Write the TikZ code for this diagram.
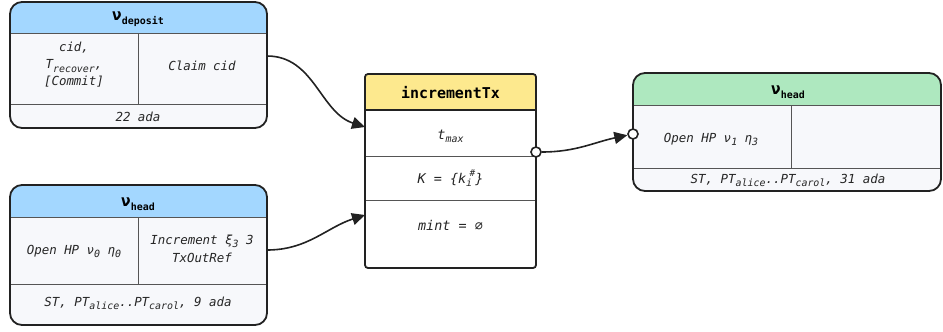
\documentclass[tikz,border=0pt]{standalone}
\usepackage{fontspec}
\setmainfont{DejaVu Sans Mono}[BoldFont={DejaVu Sans Mono Bold},ItalicFont={DejaVu Sans Mono Oblique},BoldItalicFont={DejaVu Sans Mono Bold Oblique}]
\usetikzlibrary{arrows.meta,calc}
\definecolor{hblue}{HTML}{A3D7FF}
\definecolor{hgreen}{HTML}{AEE8BF}
\definecolor{hyellow}{HTML}{FDE98E}
\definecolor{bodyc}{HTML}{F7F8FB}
\definecolor{edge}{HTML}{222222}
\definecolor{divc}{HTML}{555555}
\newcommand{\sbs}[1]{\raisebox{-0.45ex}{\fontsize{10}{10}\selectfont #1}}
\newcommand{\sps}[1]{\raisebox{0.9ex}{\fontsize{9.5}{10}\selectfont #1}}
\tikzset{
  boxbg/.style={inner sep=0pt, outer sep=0pt, draw=none},
  border/.style={draw=edge, line width=1.8bp},
  divline/.style={draw=divc, line width=1bp},
  celltxt/.style={inner sep=1bp, align=center, font=\fontsize{12.5}{16}\selectfont\itshape, text=black!85},
  inctxt/.style={inner sep=1bp, align=center, font=\fontsize{13.5}{16}\selectfont\itshape, text=black!85},
  headtxt/.style={inner sep=1bp, font=\fontsize{16}{17}\selectfont\bfseries},
  conn/.style={draw=edge, line width=1.6bp, -{Triangle[length=13bp,width=12bp]}},
  port/.style={circle, draw=edge, line width=1.6bp, fill=white, minimum size=10bp, inner sep=0pt}
}
\begin{document}
\begin{tikzpicture}[x=1bp,y=-1bp]
\useasboundingbox (0,0) rectangle (943,331);

% ---------- v_deposit ----------
\node[boxbg, fill=bodyc, rounded corners=12bp, minimum width=257bp, minimum height=126bp] (dep) at (138.5,65) {};
\begin{scope}
  \clip[rounded corners=12bp] (dep.north west) rectangle (dep.south east);
  \fill[hblue] (dep.north west) rectangle ($(dep.north east)+(0,31)$);
\end{scope}
\draw[divline] ($(dep.north west)+(0,31)$) -- ($(dep.north east)+(0,31)$);
\draw[divline] ($(dep.north west)+(0,102)$) -- ($(dep.north east)+(0,102)$);
\draw[divline] (138,33) -- (138,104);
\draw[border, rounded corners=12bp] (dep.north west) rectangle (dep.south east);
\node[headtxt] (depH) at (138,19) {ν\sbs{deposit}};
\node[celltxt] (depA1) at (74,48) {cid,};
\node[celltxt] (depA2) at (74,66) {T\sbs{recover},};
\node[celltxt] (depA3) at (74,82) {[Commit]};
\node[celltxt] (depB) at (202,66) {Claim cid};
\node[celltxt] (depF) at (138,117) {22 ada};

% ---------- v_head (left) ----------
\node[boxbg, fill=bodyc, rounded corners=12bp, minimum width=257bp, minimum height=140bp] (hl) at (138.5,255) {};
\begin{scope}
  \clip[rounded corners=12bp] (hl.north west) rectangle (hl.south east);
  \fill[hblue] (hl.north west) rectangle ($(hl.north east)+(0,32)$);
\end{scope}
\draw[divline] ($(hl.north west)+(0,32)$) -- ($(hl.north east)+(0,32)$);
\draw[divline] ($(hl.north west)+(0,99)$) -- ($(hl.north east)+(0,99)$);
\draw[divline] (138,217) -- (138,284);
\draw[border, rounded corners=12bp] (hl.north west) rectangle (hl.south east);
\node[headtxt] (hlH) at (138,204) {ν\sbs{head}};
\node[celltxt] (hlA) at (74,251) {Open HP ν\sbs{0} η\sbs{0}};
\node[celltxt] (hlB1) at (202,241) {Increment ξ\sbs{3} 3};
\node[celltxt] (hlB2) at (202,258) {TxOutRef};
\node[celltxt] (hlF) at (138,303) {ST, PT\sbs{alice}..PT\sbs{carol}, 9 ada};

% ---------- incrementTx ----------
\node[boxbg, fill=white, rounded corners=3bp, minimum width=171bp, minimum height=194bp] (inc) at (450.5,171) {};
\begin{scope}
  \clip[rounded corners=3bp] (inc.north west) rectangle (inc.south east);
  \fill[hyellow] (inc.north west) rectangle ($(inc.north east)+(0,36)$);
\end{scope}
\draw[border] ($(inc.north west)+(0,36)$) -- ($(inc.north east)+(0,36)$);
\draw[divline] ($(inc.north west)+(0,82)$) -- ($(inc.north east)+(0,82)$);
\draw[divline] ($(inc.north west)+(0,126)$) -- ($(inc.north east)+(0,126)$);
\draw[border, rounded corners=3bp] (inc.north west) rectangle (inc.south east);
\node[headtxt, font=\fontsize{15}{17}\selectfont\bfseries] (incH) at (450.5,93) {incrementTx};
\node[inctxt] (incA) at (450.5,136) {t\sbs{max}};
\node[inctxt] (incB) at (450.5,178) {K = \{k\sbs{i}\kern-0.2em\sps{\#}\}};
\node[inctxt] (incC) at (450.5,225) {mint = ∅};

% ---------- v_head (right) ----------
\node[boxbg, fill=bodyc, rounded corners=12bp, minimum width=308bp, minimum height=118bp] (hr) at (787,132) {};
\begin{scope}
  \clip[rounded corners=12bp] (hr.north west) rectangle (hr.south east);
  \fill[hgreen] (hr.north west) rectangle ($(hr.north east)+(0,32)$);
\end{scope}
\draw[divline] ($(hr.north west)+(0,32)$) -- ($(hr.north east)+(0,32)$);
\draw[divline] ($(hr.north west)+(0,95)$) -- ($(hr.north east)+(0,95)$);
\draw[divline] (791,105) -- (791,168);
\draw[border, rounded corners=12bp] (hr.north west) rectangle (hr.south east);
\node[headtxt] (hrH) at (788,92) {ν\sbs{head}};
\node[celltxt] (hrA) at (711,139) {Open HP ν\sbs{1} η\sbs{3}};
\node[celltxt] (hrF) at (788,180) {ST, PT\sbs{alice}..PT\sbs{carol}, 31 ada};

% ---------- connectors ----------
\coordinate (depout) at ($(dep.north east)+(0,54)$);
\coordinate (incin1) at ($(inc.north west)+(0,53)$);
\coordinate (hlout) at ($(hl.north east)+(0,65)$);
\coordinate (incin2) at ($(inc.north west)+(0,141)$);
\draw[conn] (depout) to[out=0,in=162] (incin1);
\draw[conn] (hlout) to[out=0,in=198] (incin2);

\node[port] (p1) at ($(inc.north east)+(0,78)$) {};
\node[port] (p2) at ($(hr.north west)+(0,61)$) {};
\draw[conn] (p1) to[out=0,in=192] (p2);
\end{tikzpicture}
\end{document}
